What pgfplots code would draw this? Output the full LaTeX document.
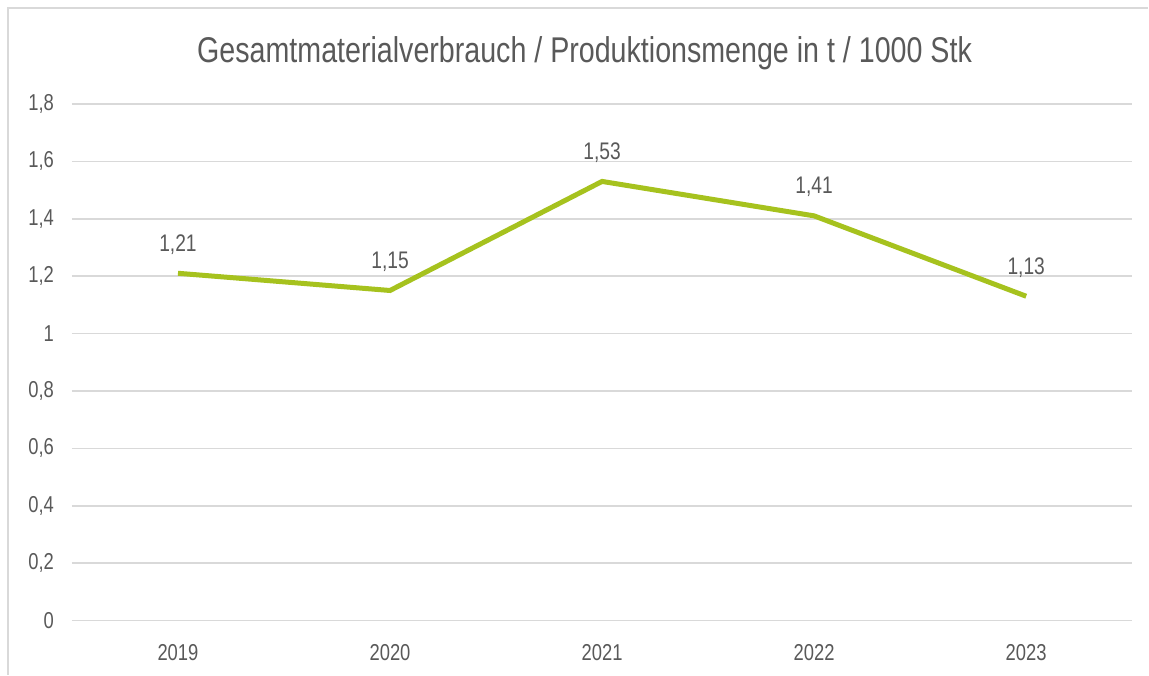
\documentclass[border=0pt]{standalone}
\usepackage{pgfplots}
\pgfplotsset{compat=1.18}
\usepackage{fontspec}
\setmainfont[FakeStretch=0.8]{Liberation Sans}
\definecolor{linegreen}{RGB}{166,194,30}
\definecolor{txt}{RGB}{89,89,89}
\definecolor{gridc}{RGB}{217,217,217}
\begin{document}
\begin{tikzpicture}
\begin{axis}[
  scale only axis, width=530.5pt, height=258.5pt,
  xmin=-0.5, xmax=4.5, ymin=0, ymax=1.8,
  xtick={0,1,2,3,4}, xticklabels={2019,2020,2021,2022,2023},
  ytick={0,0.2,...,1.8},
  /pgf/number format/assume math mode=true,
  /pgf/number format/use comma,
  axis line style={draw=none}, tick style={draw=none},
  ymajorgrids, major grid style={gridc, line width=0.8pt},
  tick label style={color=txt, font=\fontsize{11.5}{13}\selectfont},
  yticklabel style={xshift=-5.5pt},
  xticklabel style={yshift=-8.5pt},
  title={Gesamtmaterialverbrauch / Produktionsmenge in t / 1000 Stk},
  title style={at={(0.4835,1)}, anchor=base, yshift=14.5pt, color=txt,
    font=\fontsize{17.9}{21}\selectfont},
  nodes near coords,
  nodes near coords style={color=txt, font=\fontsize{12}{14}\selectfont,
    anchor=south, yshift=5pt,
    /pgf/number format/.cd, fixed, precision=2, use comma},
]
\addplot[linegreen, line width=2.5pt, mark=none] coordinates {
  (0,1.21) (1,1.15) (2,1.53) (3,1.41) (4,1.13)};
\end{axis}
\draw[gridc, line width=0.8pt] (-32pt,-27pt) -- (-32pt,306.5pt) -- (538.5pt,306.5pt);
\useasboundingbox (-36pt,-27pt) rectangle (538.5pt,310.5pt);
\end{tikzpicture}
\end{document}
